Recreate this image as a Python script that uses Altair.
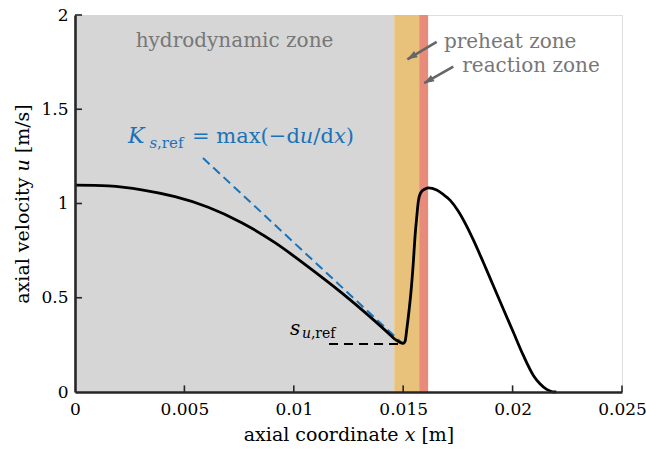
import altair as alt
import pandas as pd

# ---- data ----
# left (hydrodynamic) part of the velocity profile
x_left = [0.0, 0.00152, 0.00305, 0.00457, 0.00609, 0.00762, 0.00914,
          0.01066, 0.01219, 0.01371, 0.01463]
u_left = [1.097, 1.093, 1.072, 1.036, 0.980, 0.898, 0.792,
          0.664, 0.526, 0.376, 0.279]
# flame part (minimum, rise, peak, decay)
x_right = [0.01463, 0.01490, 0.01501, 0.01509, 0.01516, 0.01527, 0.01535,
           0.01546, 0.01554, 0.01562, 0.01569, 0.01580, 0.01600, 0.01615,
           0.01653, 0.01683, 0.01714, 0.01752, 0.01790, 0.01820, 0.01866,
           0.01912, 0.01957, 0.02003, 0.02049, 0.02095, 0.02125, 0.02156,
           0.02183, 0.0220]
u_right = [0.279, 0.261, 0.258, 0.270, 0.329, 0.435, 0.524,
           0.683, 0.824, 0.930, 1.010, 1.057, 1.077, 1.083,
           1.071, 1.048, 1.018, 0.959, 0.880, 0.808, 0.688,
           0.564, 0.442, 0.318, 0.194, 0.088, 0.044, 0.014,
           0.001, 0.0]

zone_start = [0.0, 0.01459, 0.01573]
zone_end = [0.01459, 0.01573, 0.01614]
zone_color = ["#d6d6d6", "#e8c27b", "#e88b7b"]

x_ticks = [0, 0.005, 0.01, 0.015, 0.02, 0.025]
y_ticks = [0, 0.5, 1, 1.5, 2]

# slope line K_s,ref and s_u,ref line (end points)
slope_x = [0.00585, 0.01494]
slope_u = [1.241, 0.260]
sref_x = [0.01161, 0.01494]
sref_u = [0.255, 0.255]

# arrows: tail -> head
arrow_tail_x = [0.01653, 0.01729]
arrow_tail_u = [1.858, 1.726]
arrow_head_x = [0.01519, 0.01596]
arrow_head_u = [1.765, 1.638]

# annotation texts
ann_text = ["hydrodynamic zone", "preheat zone", "reaction zone",
            "𝐾", "𝑠,ref", "= max(−d𝑢/d𝑥)",
            "𝑠", "𝑢,ref"]
ann_x = [0.00729, 0.01686, 0.01770, 0.00242, 0.00340, 0.00535, 0.00983, 0.01037]
ann_u = [1.830, 1.826, 1.699, 1.321, 1.297, 1.321, 0.302, 0.286]
ann_size = [20, 20, 20, 22, 15, 21, 20, 14]
ann_color = ["#777777", "#777777", "#777777", "#1a72b8", "#1a72b8", "#1a72b8",
             "black", "black"]
ann_align = ["center", "left", "left", "left", "left", "left", "left", "left"]

FONT = "DejaVu Serif"
AXC = "#262626"
XT = "axial coordinate 𝑥 [m]"
YT = "axial velocity 𝑢 [m/s]"

xs = alt.Scale(domain=[0, 0.025], nice=False, zero=False)
ys = alt.Scale(domain=[0, 2], nice=False, zero=False)

zones = pd.DataFrame({"x0": zone_start, "x1": zone_end, "c": zone_color})
left = pd.DataFrame({"x": x_left, "u": u_left})
right = pd.DataFrame({"x": x_right, "u": u_right})
slope = pd.DataFrame({"x": slope_x, "u": slope_u})
sref = pd.DataFrame({"x": sref_x, "u": sref_u})
arrows = pd.DataFrame({"x": arrow_tail_x, "u": arrow_tail_u,
                       "x2": arrow_head_x, "u2": arrow_head_u})
ann = pd.DataFrame({"t": ann_text, "x": ann_x, "u": ann_u, "s": ann_size,
                    "c": ann_color, "a": ann_align})
xt = pd.DataFrame({"v": [v for v in x_ticks if v != 0]})
yt = pd.DataFrame({"v": [v for v in y_ticks if v != 0]})

xaxis = alt.Axis(values=x_ticks, format="~g", tickSize=0, grid=False,
                 domainWidth=2.6, domainColor=AXC, labelFont=FONT,
                 labelFontSize=17, labelColor="black", labelPadding=9,
                 titleFont=FONT, titleFontSize=19, titleFontWeight="normal",
                 titleColor="black", titlePadding=8, labelFlush=False,
                 zindex=1)
yaxis = alt.Axis(values=y_ticks, format="~g", tickSize=0, grid=False,
                 domainWidth=2.6, domainColor=AXC, labelFont=FONT,
                 labelFontSize=17, labelColor="black", labelPadding=7,
                 titleFont=FONT, titleFontSize=19, titleFontWeight="normal",
                 titleColor="black", titlePadding=8, labelFlush=False,
                 zindex=1)


def X(field=None, datum=None):
    if datum is not None:
        return alt.X(datum=datum, scale=xs, axis=xaxis, title=XT)
    return alt.X(field, type="quantitative", scale=xs, axis=xaxis, title=XT)


def Y(field=None, datum=None):
    if datum is not None:
        return alt.Y(datum=datum, scale=ys, axis=yaxis, title=YT)
    return alt.Y(field, type="quantitative", scale=ys, axis=yaxis, title=YT)


band_layer = alt.Chart(zones).mark_rect().encode(
    x=X("x0"), x2="x1:Q",
    y=Y(datum=0), y2=alt.Y2(datum=2),
    color=alt.Color("c:N", scale=None),
)

xtick_layer = alt.Chart(xt).mark_rule(color=AXC, strokeWidth=1.6).encode(
    x=X("v"), y=Y(datum=0), y2=alt.Y2(datum=0.035),
)
ytick_layer = alt.Chart(yt).mark_rule(color=AXC, strokeWidth=1.6).encode(
    y=Y("v"), x=X(datum=0), x2=alt.X2(datum=0.00032),
)

slope_layer = alt.Chart(slope).mark_line(
    color="#1a72b8", strokeWidth=2, strokeDash=[9, 5]).encode(x=X("x"), y=Y("u"))

sref_layer = alt.Chart(sref).mark_line(
    color="black", strokeWidth=2, strokeDash=[9, 6]).encode(x=X("x"), y=Y("u"))

left_layer = alt.Chart(left).mark_line(
    color="black", strokeWidth=2.8, interpolate="natural").encode(x=X("x"), y=Y("u"))
right_layer = alt.Chart(right).mark_line(
    color="black", strokeWidth=2.8, interpolate="monotone").encode(x=X("x"), y=Y("u"))

arrow_line = alt.Chart(arrows).mark_rule(color="#666666", strokeWidth=2.6).encode(
    x=X("x"), y=Y("u"), x2="x2:Q", y2="u2:Q")
arrow_head = alt.Chart(arrows).mark_point(
    shape="M0,0L-0.75,2.1L0.75,2.1Z", filled=True, opacity=1,
    color="#666666", size=90, angle=239).encode(x=X("x2"), y=Y("u2"))

text_layers = []
for al in ["center", "left"]:
    sub = ann[ann["a"] == al]
    text_layers.append(
        alt.Chart(sub).mark_text(align=al, baseline="alphabetic", font=FONT).encode(
            x=X("x"), y=Y("u"),
            text="t:N",
            size=alt.Size("s:Q", scale=None),
            color=alt.Color("c:N", scale=None),
        )
    )

chart = alt.layer(
    band_layer, xtick_layer, ytick_layer, slope_layer, sref_layer,
    left_layer, right_layer, arrow_line, arrow_head, *text_layers
).properties(
    width=547, height=377,
    autosize=alt.AutoSizeParams(type="none"),
    padding={"left": 75, "top": 15, "right": 24, "bottom": 59},
).configure_view(stroke=None, strokeWidth=0).configure(background="white")

chart.save("out.html", embed_options={"renderer": "svg", "actions": False})
